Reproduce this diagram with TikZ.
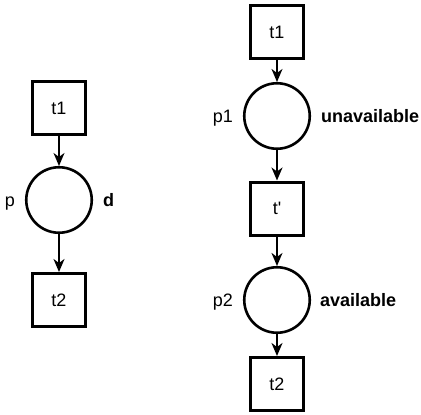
\documentclass[tikz,border=0pt]{standalone}
\usepackage{fontspec}
\setmainfont{Liberation Sans}
\usetikzlibrary{arrows.meta}
\begin{document}
\begin{tikzpicture}[x=1pt,y=-1pt,
  trans/.style={draw, line width=3pt, minimum width=53pt, minimum height=53pt, inner sep=0pt},
  place/.style={draw, circle, line width=2.6pt, minimum size=65.5pt, inner sep=0pt},
  arc/.style={-{Stealth[length=13pt,width=11pt,inset=4pt]}, line width=1.8pt},
  lbl/.style={inner sep=0pt},
  every node/.style={font=\fontsize{18}{21}\selectfont}]
\useasboundingbox (0,0) rectangle (421,415);
% left net
\node[trans] (lt1) at (59,108) {t1};
\node[place] (lp) at (59,200) {};
\node[trans] (lt2) at (59,300) {t2};
\node[lbl, anchor=base east] (lpl) at (15,206.5) {p};
\node[lbl, anchor=base west, font=\fontsize{18}{21}\selectfont\bfseries] (ld) at (103,206.5) {d};
\draw[arc] (lt1.south) -- (lp.north);
\draw[arc] (lp.south) -- (lt2.north);
% right net
\node[trans] (rt1) at (277,32) {t1};
\node[place] (rp1) at (277,116) {};
\node[trans] (rtp) at (277,208.5) {t\textquotesingle};
\node[place] (rp2) at (277,300) {};
\node[trans] (rt2) at (277,384) {t2};
\node[lbl, anchor=base east] (rp1l) at (233,122.5) {p1};
\node[lbl, anchor=base east] (rp2l) at (233,306.5) {p2};
\node[lbl, anchor=base west, font=\fontsize{18}{21}\selectfont\bfseries] (un) at (321,122.5) {unavailable};
\node[lbl, anchor=base west, font=\fontsize{18}{21}\selectfont\bfseries] (av) at (320,306.5) {available};
\draw[arc] (rt1.south) -- (rp1.north);
\draw[arc] (rp1.south) -- (rtp.north);
\draw[arc] (rtp.south) -- (rp2.north);
\draw[arc] (rp2.south) -- (rt2.north);
\end{tikzpicture}
\end{document}
